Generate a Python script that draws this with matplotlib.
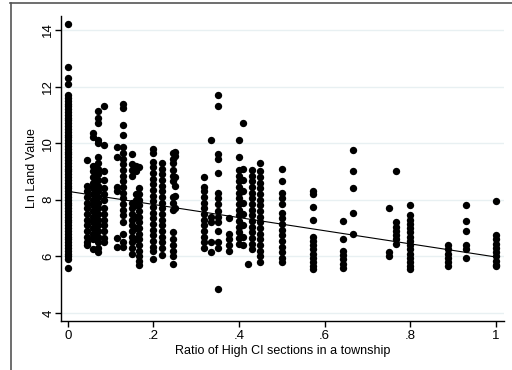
import numpy as np
import matplotlib
matplotlib.use('Agg')
import matplotlib.pyplot as plt
from matplotlib.lines import Line2D

# ratio of high CI sections (column positions) and the ln land values seen in each column
ratios = [0.0, 0.044, 0.058, 0.07, 0.084, 0.114, 0.13, 0.15, 0.16, 0.167,
          0.2, 0.22, 0.245, 0.25, 0.318, 0.334, 0.35, 0.376, 0.4, 0.41,
          0.42, 0.43, 0.449, 0.5, 0.572, 0.643, 0.667, 0.75, 0.766, 0.8,
          0.889, 0.93, 1.0]

ln_values = [
    [14.2, 12.7, 12.3, 12.1, 11.7, 11.6, 11.5, 11.4, 11.3, 11.2, 11.1, 11.0,
     10.9, 10.8, 10.7, 10.6, 10.5, 10.4, 10.3, 10.2, 10.1, 10.0, 9.9, 9.8,
     9.7, 9.6, 9.5, 9.4, 9.3, 9.2, 9.1, 9.0, 8.9, 8.8, 8.7, 8.6, 8.5, 8.4,
     8.3, 8.2, 8.1, 8.0, 7.9, 7.8, 7.7, 7.6, 7.5, 7.4, 7.3, 7.2, 7.1, 7.0,
     6.9, 6.8, 6.7, 6.6, 6.5, 6.4, 6.3, 6.2, 6.1, 6.0, 5.9, 5.6],
    [9.4, 8.5, 8.3, 8.1, 7.9, 7.7, 7.5, 7.3, 7.1, 6.9, 6.7, 6.5, 6.4],
    [10.35, 10.2, 9.2, 9.0, 8.8, 8.6, 8.4, 8.2, 8.0, 7.8, 7.6, 7.4, 7.2,
     7.0, 6.8, 6.6, 6.25],
    [11.15, 10.9, 10.7, 10.1, 10.0, 9.5, 9.3, 9.1, 8.9, 8.7, 8.5, 8.3, 8.1,
     7.9, 7.7, 7.5, 7.3, 7.1, 6.9, 6.7, 6.5, 6.3, 6.15],
    [11.3, 9.95, 9.0, 8.7, 8.4, 8.2, 8.0, 7.7, 7.5, 7.3, 7.1, 6.9, 6.65, 6.5],
    [9.85, 9.5, 8.45, 8.3, 6.65, 6.35],
    [11.4, 11.25, 10.65, 10.3, 9.85, 9.65, 9.45, 9.25, 9.05, 8.85, 8.65,
     8.45, 8.25, 8.05, 7.85, 7.65, 7.45, 7.2, 6.8, 6.5, 6.35],
    [9.6, 9.25, 9.05, 8.85, 7.9, 7.7, 7.5, 7.3, 7.1, 6.9, 6.7, 6.5, 6.3, 6.1],
    [9.2, 9.0, 8.2, 8.0, 7.8, 7.4, 7.0, 6.6],
    [9.15, 8.4, 8.2, 8.0, 7.8, 7.6, 7.4, 7.2, 7.0, 6.8, 6.6, 6.4, 6.2, 6.0,
     5.85, 5.7],
    [9.8, 9.65, 9.35, 9.15, 8.95, 8.75, 8.55, 8.35, 8.15, 7.95, 7.75, 7.55,
     7.35, 7.15, 6.95, 6.75, 6.55, 6.35, 6.2, 5.9],
    [9.3, 9.1, 8.9, 8.7, 8.5, 8.3, 8.1, 7.9, 7.7, 7.5, 7.3, 7.1, 6.9, 6.7,
     6.5, 6.3, 6.05],
    [9.65, 9.45, 9.3, 9.05, 8.85, 8.65, 8.1, 7.9, 7.65, 6.85, 6.6, 6.4, 6.2,
     6.0, 5.75],
    [9.7, 9.55, 8.8, 8.5, 8.15, 7.7],
    [8.8, 8.45, 8.3, 8.1, 7.9, 7.7, 7.5, 7.3, 7.1, 6.9, 6.7, 6.5, 6.3],
    [10.1, 7.4, 7.2, 6.5, 6.15],
    [11.7, 11.3, 9.6, 9.45, 8.95, 8.25, 8.05, 7.85, 7.6, 7.4, 7.2, 6.9, 6.5,
     6.3, 4.85],
    [7.35, 6.8, 6.6, 6.4, 6.2],
    [10.1, 9.5, 9.05, 8.85, 8.65, 8.45, 8.25, 8.05, 7.85, 7.65, 7.45, 7.25,
     7.05, 6.85, 6.65, 6.45],
    [10.7, 9.1, 8.7, 8.3, 7.9, 7.5, 7.1, 6.7, 6.4],
    [5.75],
    [9.05, 8.85, 8.65, 8.45, 8.25, 8.05, 7.85, 7.65, 7.45, 7.25, 7.05, 6.85,
     6.65, 6.45, 6.25],
    [9.3, 9.0, 8.8, 8.6, 8.4, 8.2, 8.0, 7.8, 7.6, 7.4, 7.2, 7.0, 6.8, 6.6,
     6.4, 6.2, 6.0, 5.8],
    [9.1, 8.65, 8.25, 8.05, 7.85, 7.55, 7.35, 7.15, 6.95, 6.75, 6.55, 6.35,
     6.15, 5.95, 5.8],
    [8.3, 8.2, 7.75, 7.3, 6.7, 6.55, 6.4, 6.25, 6.1, 5.95, 5.8, 5.65, 5.55],
    [7.25, 6.6, 6.2, 6.05, 5.9, 5.75, 5.6],
    [9.75, 9.0, 8.4, 7.55, 6.8],
    [7.7, 6.15, 6.0],
    [9.0, 7.2, 7.05, 6.9, 6.75, 6.6, 6.45],
    [7.8, 7.45, 7.3, 7.15, 7.0, 6.85, 6.7, 6.55, 6.4, 6.25, 6.1, 5.95, 5.8,
     5.65, 5.55],
    [6.4, 6.25, 6.1, 5.95, 5.8, 5.65],
    [7.8, 7.25, 6.9, 6.4, 6.25, 5.95],
    [7.95, 6.75, 6.6, 6.45, 6.3, 6.15, 6.0, 5.85, 5.7, 5.65],
]

# fitted line
fit_intercept = 8.30
fit_slope = -2.32

xticks = [0, 0.2, 0.4, 0.6, 0.8, 1.0]
xtick_labels = ['0', '.2', '.4', '.6', '.8', '1']
yticks = [4, 6, 8, 10, 12, 14]

plt.rcParams['font.family'] = ['Liberation Sans', 'DejaVu Sans']

fig = plt.figure(figsize=(5.12, 3.70), dpi=100)
ax = fig.add_axes([61 / 512, 1 - 321 / 370, (504 - 61) / 512, (321 - 16) / 370])

xs = np.concatenate([[r] * len(v) for r, v in zip(ratios, ln_values)])
ys = np.concatenate(ln_values)
ax.scatter(xs, ys, s=28, c='black', linewidths=0, zorder=3)

fx = np.array([0.0, 1.0])
ax.plot(fx, fit_intercept + fit_slope * fx, color='black', lw=0.8, zorder=4)

ax.set_xlim(-0.016, 1.019)
ax.set_ylim(3.72, 14.49)
ax.set_xticks(xticks)
ax.set_xticklabels(xtick_labels)
ax.set_yticks(yticks)
ax.set_yticklabels([str(t) for t in yticks], rotation=90, va='center')

ax.grid(axis='y', color='#e8f0f2', lw=1.0, zorder=0)
ax.set_axisbelow(True)
for side in ['top', 'right']:
    ax.spines[side].set_visible(False)
for side in ['left', 'bottom']:
    ax.spines[side].set_linewidth(1.0)
ax.tick_params(direction='out', length=4.3, width=1.0, labelsize=9.5, pad=2)
ax.tick_params(axis='y', pad=0.5)

ax.set_xlabel('Ratio of High CI sections in a township', fontsize=9, labelpad=2)
ax.set_ylabel('Ln Land Value', fontsize=9, labelpad=3)

# outer frame (only top and left edges are visible in the crop)
fig.add_artist(Line2D([10 / 512, 1.0], [1 - 3 / 370, 1 - 3 / 370],
                      transform=fig.transFigure, color='#555555', lw=1.2))
fig.add_artist(Line2D([10.5 / 512, 10.5 / 512], [0.0, 1 - 3 / 370],
                      transform=fig.transFigure, color='#555555', lw=1.2))

fig.savefig('out.png', dpi=100, facecolor='white')
